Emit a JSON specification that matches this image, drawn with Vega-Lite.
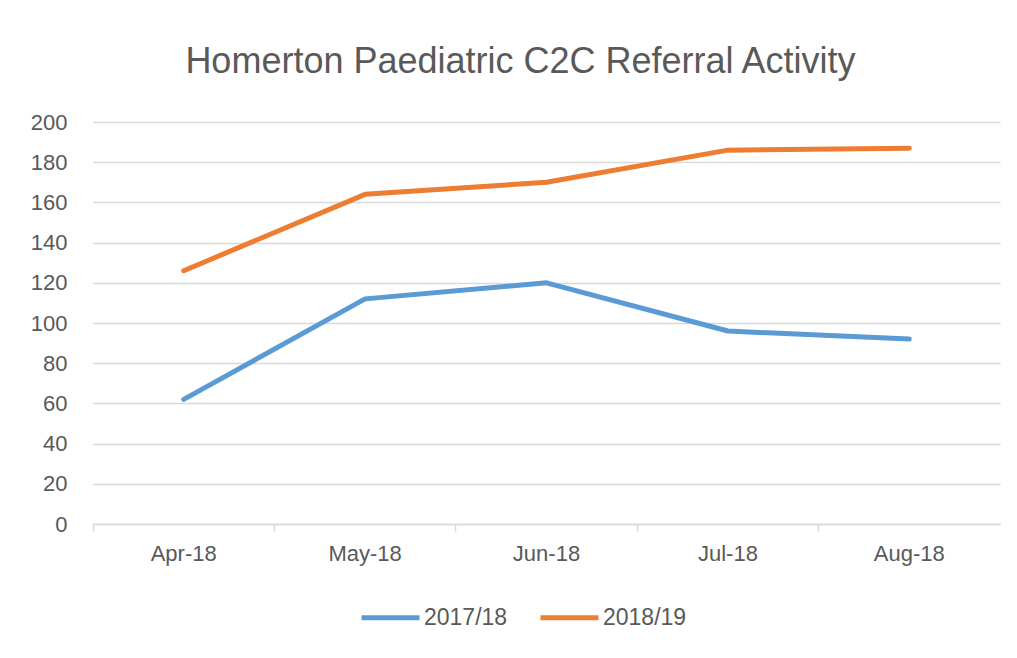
{
  "$schema": "https://vega.github.io/schema/vega-lite/v6.json",
  "width": 907,
  "height": 402,
  "autosize": "none",
  "padding": {"left": 93, "top": 122, "right": 17, "bottom": 134},
  "background": "white",
  "title": {
    "text": "Homerton Paediatric C2C Referral Activity",
    "font": "Liberation Sans",
    "fontSize": 36,
    "fontWeight": "normal",
    "color": "#595959",
    "anchor": "middle",
    "baseline": "bottom",
    "dx": -26,
    "dy": 46,
    "offset": 40
  },
  "data": {
    "values": [
      {"month": "Apr-18", "series": "2017/18", "value": 62},
      {"month": "May-18", "series": "2017/18", "value": 112},
      {"month": "Jun-18", "series": "2017/18", "value": 120},
      {"month": "Jul-18", "series": "2017/18", "value": 96},
      {"month": "Aug-18", "series": "2017/18", "value": 92},
      {"month": "Apr-18", "series": "2018/19", "value": 126},
      {"month": "May-18", "series": "2018/19", "value": 164},
      {"month": "Jun-18", "series": "2018/19", "value": 170},
      {"month": "Jul-18", "series": "2018/19", "value": 186},
      {"month": "Aug-18", "series": "2018/19", "value": 187}
    ]
  },
  "mark": {"type": "line", "strokeWidth": 5, "strokeCap": "round", "strokeJoin": "round"},
  "encoding": {
    "x": {
      "field": "month",
      "type": "ordinal",
      "sort": ["Apr-18", "May-18", "Jun-18", "Jul-18", "Aug-18"],
      "scale": {"type": "band", "paddingInner": 0, "paddingOuter": 0},
      "bandPosition": 0.5,
      "axis": {
        "title": null,
        "labelAngle": 0,
        "bandPosition": 0,
        "grid": false,
        "tickSize": 7,
        "tickColor": "#D9D9D9",
        "tickWidth": 1.5,
        "domainColor": "#D9D9D9",
        "domainWidth": 1.5,
        "labelPadding": 12,
        "labelFont": "Liberation Sans",
        "labelFontSize": 22,
        "labelColor": "#595959"
      }
    },
    "y": {
      "field": "value",
      "type": "quantitative",
      "scale": {"domain": [0, 200]},
      "axis": {
        "title": null,
        "values": [0, 20, 40, 60, 80, 100, 120, 140, 160, 180, 200],
        "domain": false,
        "ticks": false,
        "gridColor": "#D9D9D9",
        "gridWidth": 1.5,
        "labelPadding": 26,
        "labelFont": "Liberation Sans",
        "labelFontSize": 22,
        "labelColor": "#595959"
      }
    },
    "color": {
      "field": "series",
      "type": "nominal",
      "scale": {"domain": ["2017/18", "2018/19"], "range": ["#5B9BD5", "#ED7D31"]},
      "legend": {
        "title": null,
        "orient": "none",
        "direction": "horizontal",
        "legendX": 266,
        "legendY": 464,
        "symbolType": "stroke",
        "symbolSize": 3364,
        "symbolStrokeWidth": 5,
        "labelFont": "Liberation Sans",
        "labelFontSize": 23,
        "labelColor": "#595959",
        "labelOffset": 2,
        "columnPadding": 22
      }
    }
  },
  "config": {"view": {"stroke": null}}
}
